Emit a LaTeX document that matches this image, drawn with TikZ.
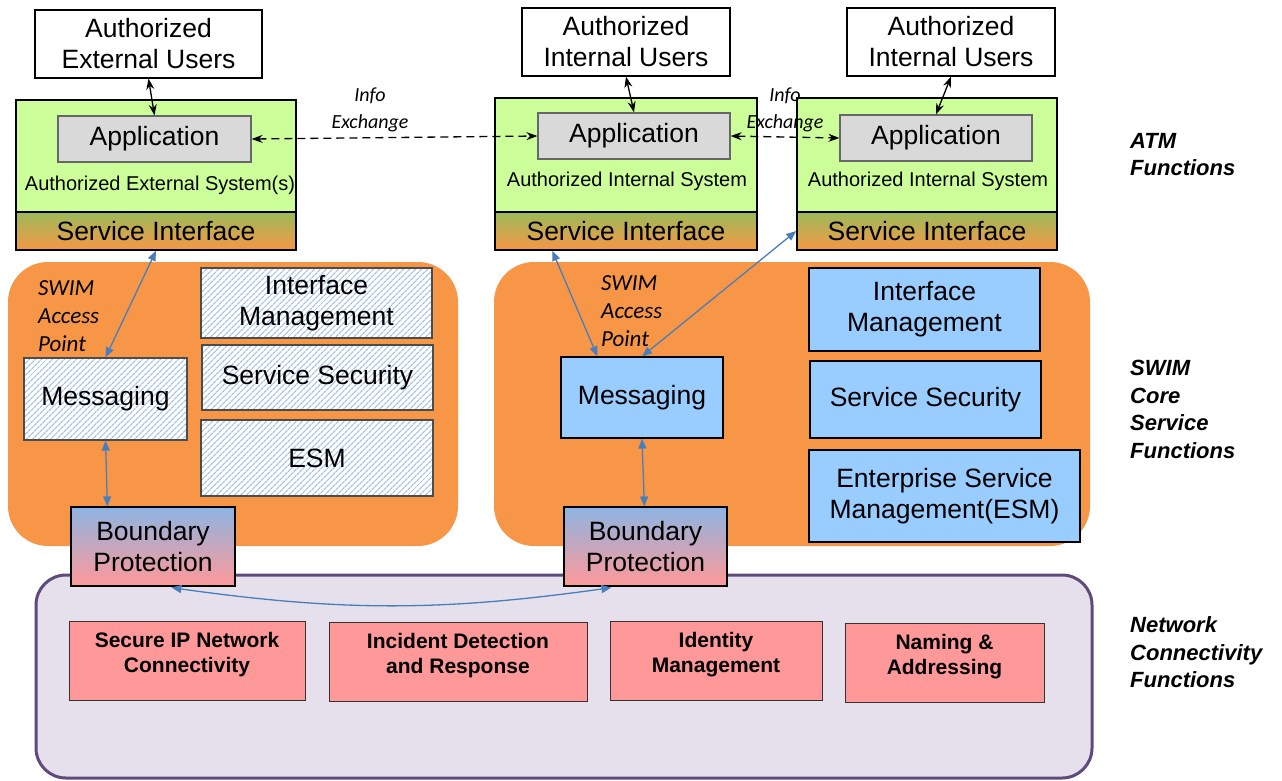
\documentclass[tikz,border=0pt]{standalone}
\usepackage{fontspec}
\setmainfont{Liberation Sans}
\newfontfamily\notefont{Carlito}
\usetikzlibrary{arrows.meta,patterns.meta,calc}

\definecolor{sysgreen}{RGB}{204,255,153}
\definecolor{appgray}{RGB}{217,217,217}
\definecolor{coreorange}{RGB}{247,150,70}
\definecolor{sitop}{RGB}{155,187,89}
\definecolor{hatchblue}{RGB}{165,195,230}
\definecolor{svcblue}{RGB}{153,204,255}
\definecolor{bptop}{RGB}{141,180,226}
\definecolor{netpink}{RGB}{255,153,153}
\definecolor{netlav}{RGB}{229,224,236}
\definecolor{netpurple}{RGB}{96,74,123}
\definecolor{linkblue}{RGB}{74,126,187}

\newcommand{\bigtext}{\fontsize{26.5}{31}\selectfont}

\tikzset{
  box/.style={draw=black, line width=1.2pt, inner sep=0pt, align=center, font=\bigtext},
  user/.style={box, fill=white},
  sys/.style={draw=black, line width=1.5pt, fill=sysgreen, inner sep=0pt},
  app/.style={box, fill=appgray, draw=black!60},
  sif/.style={box, top color=sitop, bottom color=coreorange, line width=1.5pt},
  core/.style={fill=coreorange, rounded corners=40pt, inner sep=0pt},
  hatch/.style={box, draw=black!70, preaction={fill=white},
    pattern={Lines[angle=45,distance=4pt,line width=1.3pt]}, pattern color=hatchblue},
  svc/.style={box, fill=svcblue},
  bp/.style={box, top color=bptop, bottom color=netpink},
  net/.style={draw=black!80, fill=netpink, line width=1pt, inner sep=0pt},
  nettext/.style={font=\fontsize{21}{25}\selectfont\bfseries, align=center, anchor=north, inner sep=0pt},
  layer/.style={font=\fontsize{22}{27.5}\selectfont\bfseries\itshape, align=left, anchor=west, inner sep=0pt},
  note/.style={font=\notefont\itshape\fontsize{23}{28}\selectfont, align=left, inner sep=0pt},
  syslabel/.style={font=\fontsize{20}{24}\selectfont, inner sep=0pt},
  link/.style={linkblue, line width=1.3pt, {Triangle[length=10pt,width=8pt]}-{Triangle[length=10pt,width=8pt]}},
  call/.style={line width=1.3pt, {Stealth[length=11pt,width=8pt]}-{Stealth[length=11pt,width=8pt]}},
  info/.style={call, dash pattern=on 8pt off 5pt}
}

\begin{document}
\begin{tikzpicture}[x=1pt, y=-1pt]
    \useasboundingbox (0,0) rectangle (1282,780);

    % regions
    \node[core, minimum width=450, minimum height=284] (core1) at (233,404) {};
    \node[core, minimum width=596, minimum height=284] (core2) at (792,404) {};
    \node[draw=netpurple, fill=netlav, line width=3pt, rounded corners=30pt, inner sep=0pt,
          minimum width=1056, minimum height=203] (netw) at (564,676.5) {};

    % users
    \node[user, minimum width=227, minimum height=68] (u1) at (148.5,44) {Authorized\\External Users};
    \node[user, minimum width=208, minimum height=68] (u2) at (626,42) {Authorized\\Internal Users};
    \node[user, minimum width=208, minimum height=68] (u3) at (951,42) {Authorized\\Internal Users};

    % systems
    \node[sys, minimum width=280, minimum height=112] (s1) at (156,156) {};
    \node[sys, minimum width=262, minimum height=114] (s2) at (626,155) {};
    \node[sys, minimum width=260, minimum height=114] (s3) at (927,155) {};
    \node[sif, minimum width=280, minimum height=38] (si1) at (156,231) {Service Interface};
    \node[sif, minimum width=262, minimum height=38] (si2) at (626,231) {Service Interface};
    \node[sif, minimum width=260, minimum height=38] (si3) at (927,231) {Service Interface};
    \node[app, minimum width=193, minimum height=46] (a1) at (154.5,139) {Application};
    \node[app, minimum width=192, minimum height=46] (a2) at (634,136) {Application};
    \node[app, minimum width=192, minimum height=46] (a3) at (936,138) {Application};
    \node[syslabel] (s1l) at (160,185) {Authorized External System(s)};
    \node[syslabel] (s2l) at (627,181) {Authorized Internal System};
    \node[syslabel] (s3l) at (928,181) {Authorized Internal System};

    % SWIM core, left
    \node[hatch, minimum width=231, minimum height=70] (im1) at (316.5,303) {Interface\\Management};
    \node[hatch, minimum width=231, minimum height=65] (ss1) at (317.5,377.5) {Service Security};
    \node[hatch, minimum width=232, minimum height=76] (esm1) at (317,458) {ESM};
    \node[hatch, minimum width=163, minimum height=82] (msg1) at (105.5,399) {Messaging};
    \node[note, anchor=west] (ap1) at (38,316.5) {SWIM\\Access\\Point};

    % SWIM core, right
    \node[svc, minimum width=162, minimum height=81] (msg2) at (642,397.5) {Messaging};
    \node[svc, minimum width=231, minimum height=83] (im2) at (924.5,309.5) {Interface\\Management};
    \node[svc, minimum width=231, minimum height=77] (ss2) at (925.5,399.5) {Service Security};
    \node[svc, minimum width=271, minimum height=92] (esm2) at (944.5,496) {Enterprise Service\\Management(ESM)};
    \node[note, anchor=west] (ap2) at (601,311) {SWIM\\Access\\Point};

    % boundary protection
    \node[bp, minimum width=164, minimum height=79] (b1) at (153,546.5) {Boundary\\Protection};
    \node[bp, minimum width=163, minimum height=79] (b2) at (645.5,546.5) {Boundary\\Protection};

    % network functions
    \node[net, minimum width=236, minimum height=79] (n1) at (187,660.5) {};
    \node[net, minimum width=258, minimum height=79] (n2) at (458,661.5) {};
    \node[net, minimum width=212, minimum height=79] (n3) at (716,660.5) {};
    \node[net, minimum width=199, minimum height=79] (n4) at (944.5,662.5) {};
    \node[nettext] (n1t) at ($(n1.north)+(0,12)$) {Secure IP Network\\Connectivity};
    \node[nettext] (n2t) at ($(n2.north)+(0,12)$) {Incident Detection\\and Response};
    \node[nettext] (n3t) at ($(n3.north)+(0,12)$) {Identity\\Management};
    \node[nettext] (n4t) at ($(n4.north)+(0,12)$) {Naming \&\\Addressing};

    % layer names
    \node[layer] (atm) at (1130,154.5) {ATM\\Functions};
    \node[layer] (swim) at (1130,409.5) {SWIM\\Core\\Service\\Functions};
    \node[layer] (ncf) at (1130,652.5) {Network\\Connectivity\\Functions};

    % info exchange
    \node[note, align=center, font=\notefont\itshape\fontsize{20}{27}\selectfont] (ie1) at (370,110) {Info\\Exchange};
    \node[note, align=center, font=\notefont\itshape\fontsize{20}{27}\selectfont] (ie2) at (785,110) {Info\\Exchange};

    % connectors
    \draw[call] (u1.south) -- (a1.north);
    \draw[call] (u2.south) -- (a2.north);
    \draw[call] (u3.south) -- (a3.north);
    \draw[info] (a1.east) -- (a2.west);
    \draw[info] (a2.east) -- (a3.west);
    \draw[link] (si1.south) -- (msg1.north);
    \draw[link] (msg1.south) -- ($(b1.north west)+(37,0)$);
    \draw[link] ($(si2.south west)+(58,0)$) -- ($(msg2.north west)+(37,0)$);
    \draw[link] (si3.west) -- (msg2.north);
    \draw[link] (msg2.south) -- ($(b2.north west)+(81,0)$);
    \draw[link] ($(b1.south west)+(101,1)$) to[bend right=8] ($(b2.south west)+(48,1)$);
\end{tikzpicture}
\end{document}
